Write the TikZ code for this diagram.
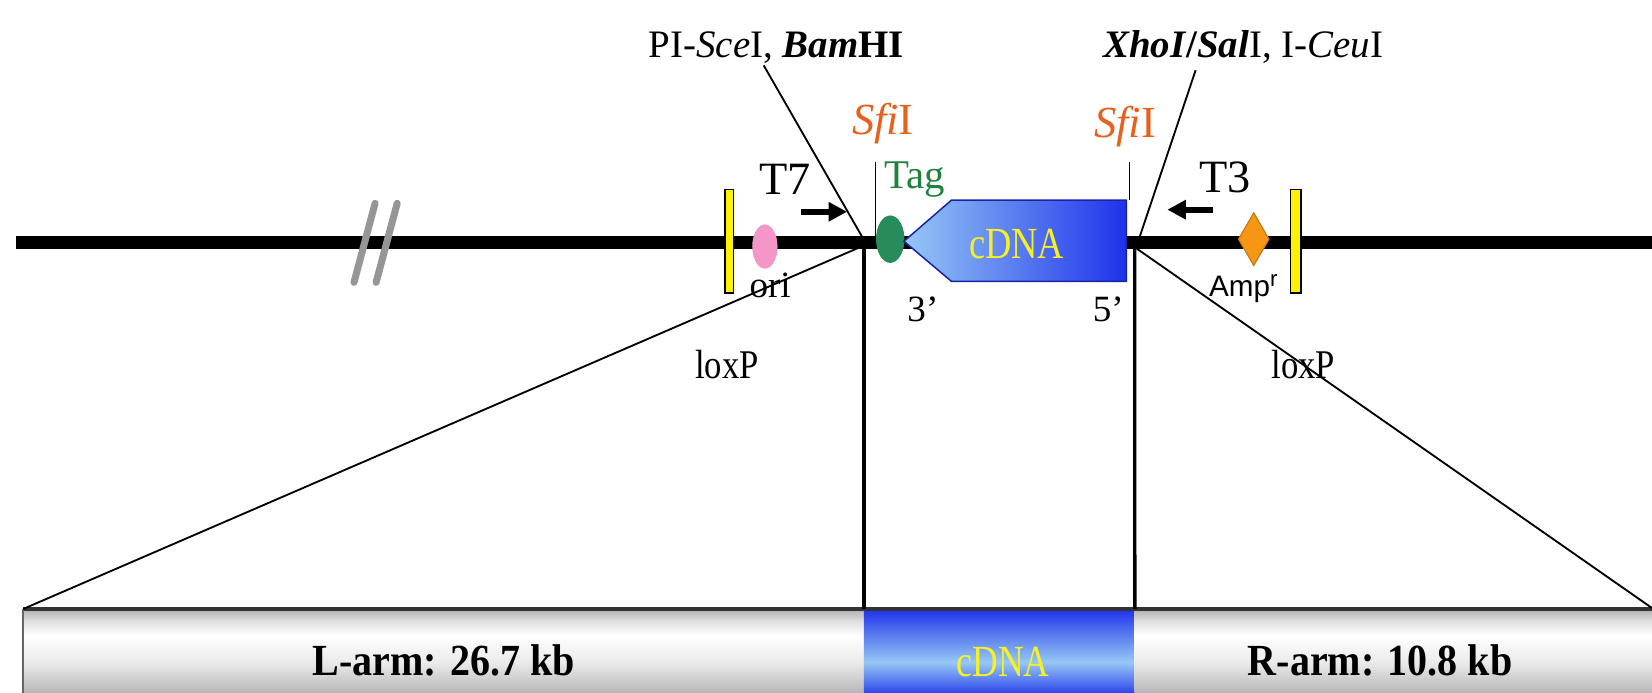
\documentclass[tikz,border=0pt]{standalone}
\usepackage{fontspec}
\setmainfont{Liberation Serif}
\setsansfont{Liberation Sans}
\usetikzlibrary{arrows.meta,shapes.geometric,calc}
\definecolor{sfiorange}{RGB}{232,96,28}
\definecolor{taggreen}{RGB}{30,130,60}
\definecolor{tagdot}{RGB}{40,140,90}
\definecolor{oripink}{RGB}{245,150,200}
\definecolor{ampor}{RGB}{245,150,20}
\definecolor{cdnayellow}{RGB}{245,240,40}
\definecolor{bluedark}{RGB}{30,50,235}
\definecolor{bluelight}{RGB}{150,200,245}
\definecolor{armgray}{RGB}{175,175,175}
\definecolor{breakgray}{RGB}{150,150,150}
\pgfdeclareverticalshading{armshade}{100bp}{color(0bp)=(armgray); color(25bp)=(armgray); color(45bp)=(white!92!black); color(60bp)=(white); color(68bp)=(white!88!black); color(75bp)=(armgray); color(100bp)=(armgray)}
\pgfdeclareverticalshading{cdnashade}{100bp}{color(0bp)=(bluedark); color(25bp)=(bluedark); color(45bp)=(bluelight); color(63bp)=(bluedark!60!bluelight); color(75bp)=(bluedark); color(100bp)=(bluedark)}
\begin{document}
\begin{tikzpicture}[x=0.01cm,y=-0.01cm,
  every node/.style={inner sep=0pt,outer sep=0pt},
  thinln/.style={line width=0.5pt,black},
  cutln/.style={line width=0.9pt,black},
  primer/.style={line width=1.6pt,-{Triangle[length=5pt,width=5pt]}},
  loxbar/.style={rectangle,draw=black,line width=0.4pt,fill=yellow,minimum width=0.08cm,minimum height=0.98cm},
  armbox/.style={rectangle,shade,shading=armshade,minimum height=0.84cm,anchor=north west},
  enzlbl/.style={font=\fontsize{10.5}{12}\selectfont},
  sfilbl/.style={font=\fontsize{12}{14}\selectfont,text=sfiorange},
  smalllbl/.style={font=\fontsize{10}{12}\selectfont},
  loxlbl/.style={font=\fontsize{11}{13}\selectfont},
  primerlbl/.style={font=\fontsize{12.5}{14}\selectfont},
  armtxt/.style={font=\bfseries\fontsize{12}{14}\selectfont}
]
\useasboundingbox (0,0) rectangle (1568,657);

% bottom boxes
\node[armbox,minimum width=7.98cm] (larm) at (22,578) {};
\node[armbox,shading=cdnashade,minimum width=2.57cm] (cbox) at (820,578) {};
\node[armbox,minimum width=4.92cm] (rarm) at (1077,578) {};
\draw[line width=1pt,black!80] (larm.north west) -- (rarm.north east);
\draw[line width=0.6pt,black!60] (larm.north west) -- (larm.south west);
\node[armtxt] (larmtxt) at (421,627) {\scalebox{0.9}[1]{L-arm: 26.7 kb}};
\node[armtxt] (rarmtxt) at (1310,627) {\scalebox{0.9}[1]{R-arm: 10.8 kb}};
\node[font=\fontsize{12}{14}\selectfont,text=cdnayellow] (cboxtxt) at (952,628) {\scalebox{0.8}[1]{cDNA}};

% main line
\coordinate (mL) at (15,230);
\coordinate (mR) at (1570,230);
\draw[line width=3.4pt] (mL) -- (mR);

% break mark
\draw[breakgray,line width=1.9pt,line cap=round] (356,193) -- (336,268) (377,193) -- (357,268);

% loxP bars
\node[loxbar] (loxL) at (692,229) {};
\node[loxbar,minimum width=0.1cm] (loxR) at (1230,229) {};
\node[loxlbl] (loxLtxt) at (690,346) {\scalebox{0.85}[1]{loxP}};
\node[loxlbl] (loxRtxt) at (1237,346) {\scalebox{0.85}[1]{loxP}};

% ori
\node[ellipse,fill=oripink,minimum width=0.24cm,minimum height=0.42cm] (ori) at (726,234) {};
\node[smalllbl] (oritxt) at (731,271) {ori};

% Tag
\node[ellipse,fill=tagdot,minimum width=0.27cm,minimum height=0.45cm] (tag) at (845,227) {};
\node[font=\fontsize{11}{13}\selectfont,text=taggreen] (tagtxt) at (868,170) {Tag};

% cDNA arrow
\coordinate (tip) at (858,229);
\coordinate (cTL) at (903,190);
\coordinate (cTR) at (1069,190);
\coordinate (cBR) at (1069,267);
\coordinate (cBL) at (903,267);
\path[left color=bluelight,right color=bluedark,draw=bluedark!70!black,line width=0.4pt] (tip) -- (cTL) -- (cTR) -- (cBR) -- (cBL) -- cycle;
\node[font=\fontsize{12}{14}\selectfont,text=cdnayellow] (cdnatxt) at (965,232) {\scalebox{0.82}[1]{cDNA}};
\node[smalllbl] (p3) at (876,294) {3’};
\node[smalllbl] (p5) at (1052,294) {5’};

% SfiI sites
\node[sfilbl] (sfiL) at (838,117) {\textit{Sfi}I};
\node[sfilbl] (sfiR) at (1068,120) {\textit{Sfi}I};
\coordinate (sfiLa) at (831,154);
\coordinate (sfiLb) at (831,229);
\coordinate (sfiRa) at (1072,154);
\coordinate (sfiRb) at (1072,190);
\draw[thinln] (sfiLa) -- (sfiLb);
\draw[thinln] (sfiRa) -- (sfiRb);

% primers
\node[primerlbl] (t7) at (745,170) {T7};
\coordinate (t7a) at (760,201);
\coordinate (t7b) at (804,201);
\draw[primer] (t7a) -- (t7b);
\node[primerlbl] (t3) at (1163,168) {T3};
\coordinate (t3a) at (1151,199);
\coordinate (t3b) at (1108,199);
\draw[primer] (t3a) -- (t3b);

% Amp
\node[diamond,fill=ampor,draw=ampor!80!black,line width=0.3pt,minimum width=0.29cm,minimum height=0.5cm] (amp) at (1190,227) {};
\node[font=\sffamily\fontsize{8}{9}\selectfont] (amptxt) at (1181,274) {Amp\textsuperscript{r}};

% enzyme labels
\node[enzlbl] (pi) at (737,45) {PI-\textit{Sce}I, \textbf{\textit{Bam}HI}};
\node[enzlbl] (xho) at (1180,45) {\textbf{\textit{XhoI}/\textit{Sal}}I, I-\textit{Ceu}I};
\coordinate (piA) at ($(pi.south west)!0.45!(pi.south east)+(0,2)$);
\coordinate (xhoA) at ($(xho.south west)!0.33!(xho.south east)+(0,6)$);

% cut points
\coordinate (cutLt) at (819,226);
\coordinate (cutLb) at (820,233);
\coordinate (cutRt) at (1079,233);
\coordinate (cutRb) at (1079,236);

\draw[thinln] (piA) -- (cutLt);
\draw[thinln] (xhoA) -- (cutRt);
\draw[thinln] (larm.north west) -- (cutLb);
\draw[thinln] (cutRb) -- (rarm.north east);
\draw[cutln] (820,230) -- (cbox.north west);
\draw[cutln] (1077,230) -- (cbox.north east);
\end{tikzpicture}
\end{document}
